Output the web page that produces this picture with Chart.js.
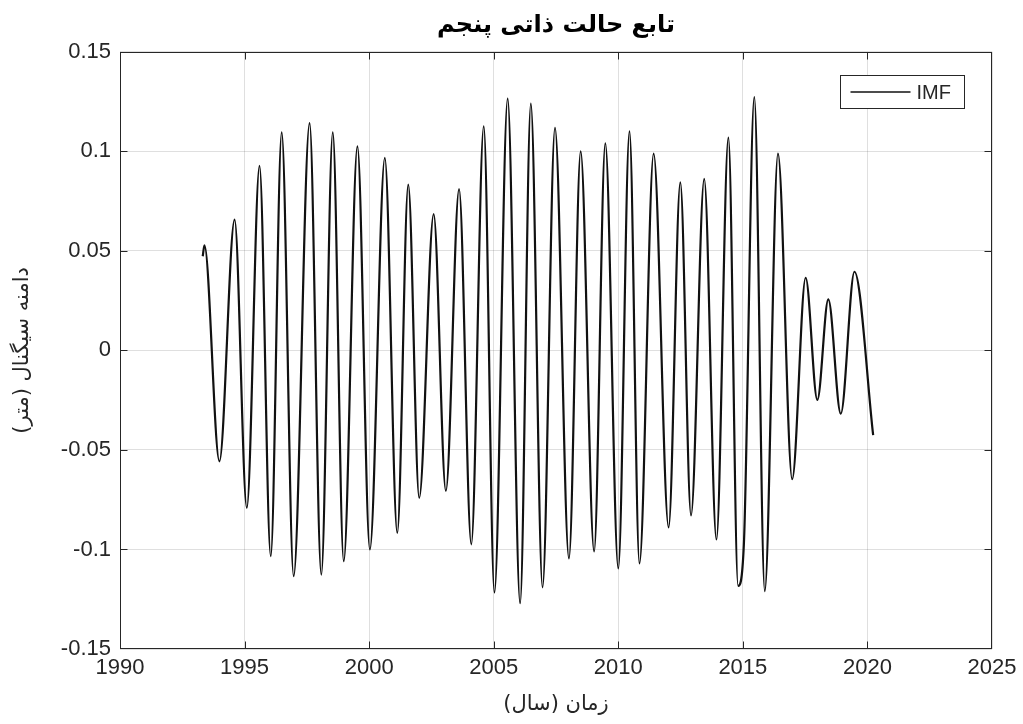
<!DOCTYPE html>
<html>
<head>
<meta charset="utf-8">
<title>IMF</title>
<script src="https://cdn.jsdelivr.net/npm/chart.js@4.4.1/dist/chart.umd.min.js"></script>
<style>
  html, body { margin: 0; padding: 0; background: #fff; }
  #wrap { width: 1023px; height: 724px; }
</style>
</head>
<body>
<div id="wrap"><canvas id="imfChart" width="1023" height="724"></canvas></div>
<script>
// ====== Data (peaks / troughs of the IMF) ======
const YEARS = [
  1993.32, 1993.39, 1993.99, 1994.60, 1995.09, 1995.60, 1996.05, 1996.49, 1996.97, 1997.61,
  1998.08, 1998.54, 1998.98, 1999.53, 2000.03, 2000.63, 2001.13, 2001.57, 2002.01, 2002.59,
  2003.08, 2003.61, 2004.10, 2004.60, 2005.03, 2005.56, 2006.06, 2006.49, 2006.96, 2007.46,
  2008.02, 2008.49, 2009.03, 2009.48, 2010.00, 2010.45, 2010.85, 2011.42, 2012.02, 2012.49,
  2012.92, 2013.45, 2013.94, 2014.42, 2014.81, 2015.04, 2015.46, 2015.88, 2016.41, 2016.98,
  2017.52, 2017.99, 2018.43, 2018.93, 2019.48, 2020.23
];
const IMF_VALUES = [
  0.0473, 0.0528, -0.0557, 0.0657, -0.0791, 0.0927, -0.1034, 0.1095, -0.1134, 0.1142,
  -0.1126, 0.1095, -0.1059, 0.1025, -0.1000, 0.0967, -0.0917, 0.0833, -0.0741, 0.0685,
  -0.0706, 0.0810, -0.0974, 0.1126, -0.1216, 0.1265, -0.1270, 0.1240, -0.1190, 0.1118,
  -0.1045, 0.1000, -0.1010, 0.1040, -0.1095, 0.1100, -0.1070, 0.0988, -0.0889, 0.0844,
  -0.0829, 0.0862, -0.0950, 0.1069, -0.1183, -0.0976, 0.1273, -0.1209, 0.0988, -0.0647,
  0.0365, -0.0249, 0.0256, -0.0318, 0.0395, -0.0426
];
const X_TICKS = [1990, 1995, 2000, 2005, 2010, 2015, 2020, 2025];
const Y_TICKS = [-0.15, -0.1, -0.05, 0, 0.05, 0.1, 0.15];

const TITLE = 'تابع حالت ذاتی پنجم';
const X_TITLE = 'زمان (سال)';
const Y_TITLE = 'دامنه سیگنال (متر)';
const SERIES_LABEL = 'IMF';

// ====== Styles ======
const AXIS_COLOR = '#262626';
const GRID_COLOR = 'rgba(38,38,38,0.15)';
const TICK_FONT = { family: "'Liberation Sans', Arial, sans-serif", size: 22 };
const FA_FONT = "'DejaVu Sans', 'Noto Sans', sans-serif";

// ====== Box, inward ticks and legend (MATLAB look) ======
const boxPlugin = {
  id: 'matlabBox',
  afterDraw(chart) {
    const { ctx, chartArea: a, scales } = chart;
    ctx.save();
    ctx.strokeStyle = AXIS_COLOR;
    ctx.lineWidth = 1;
    const L = Math.round(a.left) + 0.5, R = Math.round(a.right) - 0.5;
    const T = Math.round(a.top) + 0.5, B = Math.round(a.bottom) - 0.5;
    ctx.strokeRect(L, T, R - L, B - T);

    const tl = 7;
    ctx.beginPath();
    scales.x.ticks.forEach(t => {
      const px = Math.round(scales.x.getPixelForValue(t.value)) + 0.5;
      if (px <= L + 1 || px >= R - 1) return;
      ctx.moveTo(px, B); ctx.lineTo(px, B - tl);
      ctx.moveTo(px, T); ctx.lineTo(px, T + tl);
    });
    scales.y.ticks.forEach(t => {
      const py = Math.round(scales.y.getPixelForValue(t.value)) + 0.5;
      if (py <= T + 1 || py >= B - 1) return;
      ctx.moveTo(L, py); ctx.lineTo(L + tl, py);
      ctx.moveTo(R, py); ctx.lineTo(R - tl, py);
    });
    ctx.stroke();

    // legend box, top right inside the axes
    const ds = chart.data.datasets[0];
    const bw = 124, bh = 33;
    const bx = Math.round(a.right - 28 - bw) + 0.5, by = Math.round(a.top + 23) + 0.5;
    ctx.fillStyle = '#fff';
    ctx.fillRect(bx, by, bw, bh);
    ctx.strokeRect(bx, by, bw, bh);
    ctx.beginPath();
    ctx.strokeStyle = ds.borderColor;
    ctx.lineWidth = 1.5;
    ctx.moveTo(bx + 10, by + bh / 2);
    ctx.lineTo(bx + 70, by + bh / 2);
    ctx.stroke();
    ctx.fillStyle = AXIS_COLOR;
    ctx.font = "20px 'Liberation Sans', Arial, sans-serif";
    ctx.textBaseline = 'middle';
    ctx.textAlign = 'left';
    ctx.fillText(ds.label, bx + 76, by + bh / 2 + 1);
    ctx.restore();
  }
};

// ====== Chart ======
const points = YEARS.map((x, i) => ({ x, y: IMF_VALUES[i] }));

new Chart(document.getElementById('imfChart').getContext('2d'), {
  type: 'line',
  data: {
    datasets: [{
      label: SERIES_LABEL,
      data: points,
      borderColor: '#111111',
      borderWidth: 2.2,
      pointRadius: 0,
      fill: false,
      cubicInterpolationMode: 'monotone'
    }]
  },
  options: {
    responsive: false,
    animation: false,
    layout: { padding: { left: 0, right: 31, top: 0, bottom: 0 } },
    plugins: {
      legend: { display: false },
      tooltip: { enabled: false },
      title: {
        display: true,
        fullSize: false,
        text: TITLE,
        color: '#000',
        font: { family: FA_FONT, size: 24, weight: 'bold' },
        padding: { top: 11, bottom: 12 }
      }
    },
    scales: {
      x: {
        type: 'linear',
        min: X_TICKS[0],
        max: X_TICKS[X_TICKS.length - 1],
        afterBuildTicks: s => { s.ticks = X_TICKS.map(v => ({ value: v })); },
        afterFit: s => { s.height = 75; },
        grid: { color: GRID_COLOR, drawTicks: false },
        border: { display: false },
        ticks: {
          color: AXIS_COLOR,
          font: TICK_FONT,
          padding: 6,
          maxRotation: 0,
          callback: v => String(v)
        },
        title: {
          display: true,
          text: X_TITLE,
          color: AXIS_COLOR,
          font: { family: FA_FONT, size: 21 },
          padding: { top: 0, bottom: 7 }
        }
      },
      y: {
        min: Y_TICKS[0],
        max: Y_TICKS[Y_TICKS.length - 1],
        afterBuildTicks: s => { s.ticks = Y_TICKS.map(v => ({ value: v })); },
        afterFit: s => { s.width = 120; },
        grid: { color: GRID_COLOR, drawTicks: false },
        border: { display: false },
        ticks: {
          color: AXIS_COLOR,
          font: TICK_FONT,
          padding: 9,
          callback: v => {
            const r = Math.round(v * 100) / 100;
            return r === 0 ? '0' : String(r);
          }
        },
        title: {
          display: true,
          text: Y_TITLE,
          color: AXIS_COLOR,
          font: { family: FA_FONT, size: 21 },
          padding: { top: 10, bottom: 0 }
        }
      }
    }
  },
  plugins: [boxPlugin]
});
</script>
</body>
</html>
